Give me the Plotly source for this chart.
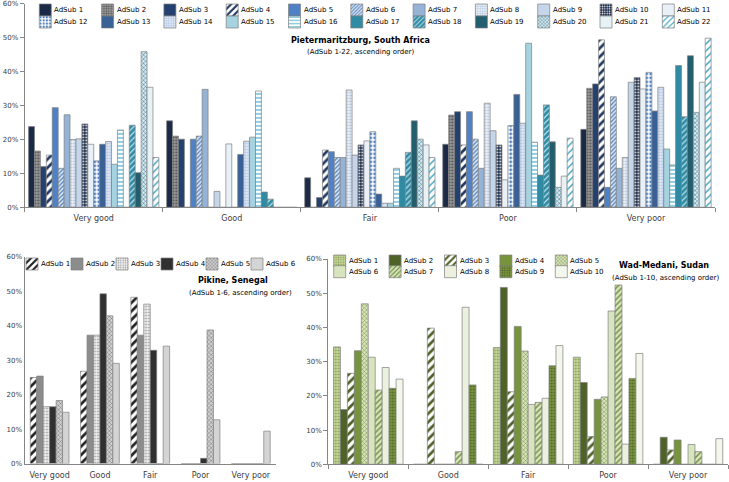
import plotly.graph_objects as go

W, H = 729, 482
FONT = "DejaVu Sans"

categories = ["Very good", "Good", "Fair", "Poor", "Very poor"]

# Pietermaritzburg, South Africa - % per rating, AdSub 1..22
pmb_very_good = [23.8, 16.6, 12.0, 15.4, 29.4, 11.5, 27.3, 20.0, 20.2, 24.6, 18.6,
                 13.7, 18.6, 19.4, 12.7, 22.8, 0.0, 24.2, 10.2, 45.9, 35.4, 14.7]
pmb_good = [25.5, 21.0, 20.1, 0.0, 20.1, 21.0, 34.8, 0.0, 4.7, 0.0, 18.7,
            0.0, 15.6, 19.5, 20.7, 34.3, 4.5, 2.4, 0.0, 0.0, 0.0, 0.0]
pmb_fair = [8.7, 0.0, 2.9, 16.9, 16.4, 14.7, 14.7, 34.6, 15.4, 18.4, 19.6,
            22.3, 3.9, 1.2, 1.2, 11.5, 9.2, 16.2, 25.5, 20.1, 18.4, 14.7]
pmb_poor = [18.6, 27.2, 28.2, 18.4, 28.2, 20.1, 11.5, 30.7, 22.6, 18.4, 8.1,
            24.1, 33.3, 24.8, 48.4, 19.2, 9.5, 30.2, 19.3, 5.9, 9.2, 20.4]
pmb_very_poor = [23.0, 35.1, 36.4, 49.4, 5.9, 32.6, 11.5, 14.7, 36.9, 38.3, 34.9,
                 39.8, 28.4, 35.4, 17.2, 12.5, 41.8, 26.7, 44.7, 28.0, 36.9, 49.9]

# Pikine, Senegal - AdSub 1..6
pik_very_good = [25.0, 25.4, 16.5, 16.5, 18.3, 14.9]
pik_good = [26.8, 37.3, 37.3, 49.3, 42.9, 29.1]
pik_fair = [48.3, 37.3, 46.3, 32.9, 0.0, 34.1]
pik_poor = [0.0, 0.0, 0.0, 1.5, 38.8, 12.7]
pik_very_poor = [0.0, 0.0, 0.0, 0.0, 0.0, 9.4]

# Wad-Medani, Sudan - AdSub 1..10
wad_very_good = [34.3, 16.0, 26.6, 33.2, 46.9, 31.3, 21.7, 28.3, 22.2, 24.9]
wad_good = [0.0, 0.0, 39.8, 0.0, 0.0, 0.0, 3.7, 45.9, 23.2, 0.0]
wad_fair = [34.1, 51.7, 21.2, 40.3, 33.1, 17.5, 18.1, 19.3, 28.8, 34.7]
wad_poor = [31.3, 23.9, 8.1, 19.0, 19.7, 44.8, 52.4, 5.9, 25.1, 32.4]
wad_very_poor = [0.0, 7.9, 4.2, 7.1, 0.0, 5.8, 3.7, 0.0, 0.0, 7.5]

# (background colour, pattern shape, pattern colour, pattern size, solidity)
pmb_styles = [
    ("#1b2a47", "", None, 8, 0.3),
    ("#9c9c9c", ".", "#4a4a4a", 3, 0.35),
    ("#23406e", "", None, 8, 0.3),
    ("#ffffff", "/", "#1f3864", 6, 0.45),
    ("#4f81c7", "", None, 8, 0.3),
    ("#dae4f2", "/", "#4f81bd", 3, 0.4),
    ("#95b3d7", "", None, 8, 0.3),
    ("#eef2f8", ".", "#a6bddb", 3, 0.35),
    ("#c5d5ea", "", None, 8, 0.3),
    ("#1b2a47", ".", "#ffffff", 3, 0.3),
    ("#eaf0f8", "", None, 8, 0.3),
    ("#ffffff", ".", "#4f81bd", 4, 0.4),
    ("#3a6196", "", None, 8, 0.3),
    ("#dde7f3", "+", "#8eaadb", 3, 0.2),
    ("#a5d3e0", "", None, 8, 0.3),
    ("#ffffff", "-", "#8fcde0", 4, 0.5),
    ("#2f8aa3", "", None, 8, 0.3),
    ("#2f8aa3", "/", "#bfe3ec", 4, 0.3),
    ("#225e6d", "", None, 8, 0.3),
    ("#d6e8ee", "x", "#2f6f86", 3, 0.3),
    ("#e6f2f6", "", None, 8, 0.3),
    ("#ffffff", "/", "#4bacc6", 5, 0.3),
]
pik_styles = [
    ("#ffffff", "/", "#222222", 6, 0.45),
    ("#8c8c8c", "", None, 8, 0.3),
    ("#f2f2f2", ".", "#9a9a9a", 3, 0.3),
    ("#303030", "", None, 8, 0.3),
    ("#d0d0d0", "x", "#6f6f6f", 3, 0.3),
    ("#d4d4d4", "", None, 8, 0.3),
]
wad_styles = [
    ("#c6d89f", ".", "#879e4e", 3, 0.35),
    ("#4f6228", "", None, 8, 0.3),
    ("#ffffff", "/", "#4f6228", 6, 0.45),
    ("#77933c", "", None, 8, 0.3),
    ("#d7e4bd", "x", "#6f8a3a", 3, 0.3),
    ("#d7e4bd", "", None, 8, 0.3),
    ("#d7e4bd", "/", "#6f8a3a", 4, 0.35),
    ("#ebf1de", "", None, 8, 0.3),
    ("#7a9640", ".", "#4f6228", 3, 0.35),
    ("#f4f7ec", "", None, 8, 0.3),
]


def px_x(x):
    return x / W


def px_y(y):
    return 1 - y / H


def marker(style):
    bg, shape, fg, size, solid = style
    m = dict(color=bg, line=dict(color="#7f7f7f", width=0.7))
    if shape:
        m["pattern"] = dict(shape=shape, fgcolor=fg, bgcolor=bg, size=size,
                            solidity=solid, fillmode="replace")
    return m


fig = go.Figure()


def add_panel(rows, styles, xa, ya, fill, legends):
    n = len(styles)
    w = fill / n
    per_legend = -(-n // len(legends))
    for k in range(n):
        vals = [r[k] for r in rows]
        fig.add_trace(go.Bar(
            x=categories, y=vals, name="", xaxis=xa, yaxis=ya,
            width=w, offset=-fill / 2 + k * w,
            marker=marker(styles[k]), legend=legends[k // per_legend],
            hovertemplate=f"AdSub {k + 1}: %{{y}}%<extra></extra>",
        ))


add_panel([pmb_very_good, pmb_good, pmb_fair, pmb_poor, pmb_very_poor],
          pmb_styles, "x", "y", 0.944, ["legend", "legend2"])
add_panel([pik_very_good, pik_good, pik_fair, pik_poor, pik_very_poor],
          pik_styles, "x2", "y2", 0.77, ["legend3"])
add_panel([wad_very_good, wad_good, wad_fair, wad_poor, wad_very_poor],
          wad_styles, "x3", "y3", 0.87, ["legend4", "legend5"])

# legend rows: (text x of first entry, step, row centre y, labels)
legend_rows = {
    "legend": (53.3, 62.3, 10.0, [f"AdSub {i}" for i in range(1, 12)]),
    "legend2": (53.3, 62.3, 22.0, [f"AdSub {i}" for i in range(12, 23)]),
    "legend3": (40.0, 45.0, 264.0, [f"AdSub {i}" for i in range(1, 7)]),
    "legend4": (347.7, 55.4, 261.0, [f"AdSub {i}" for i in range(1, 6)]),
    "legend5": (347.7, 55.4, 271.7, [f"AdSub {i}" for i in range(6, 11)]),
}

annotations = []
layout_legends = {}
for key, (tx, step, ry, labels) in legend_rows.items():
    layout_legends[key] = dict(
        orientation="h", x=px_x(tx - 28), y=px_y(ry - 14.5),
        xanchor="left", yanchor="top", bgcolor="rgba(0,0,0,0)",
        entrywidthmode="fraction", entrywidth=step / W,
        font=dict(family=FONT, size=7), borderwidth=0,
    )
    for i, lab in enumerate(labels):
        annotations.append(dict(
            text=lab, x=px_x(tx - 1 + i * step), y=px_y(ry), xref="paper", yref="paper",
            xanchor="left", yanchor="middle", showarrow=False,
            font=dict(family=FONT, size=7, color="#000000"),
        ))

titles = [
    ("<b>Pietermaritzburg, South Africa</b>", 360.7, 40.7, 8),
    ("(AdSub 1-22, ascending order)", 360.7, 52.3, 7),
    ("<b>Pikine, Senegal</b>", 233, 280.7, 8),
    ("(AdSub 1-6, ascending order)", 240, 293.3, 7),
    ("<b>Wad-Medani, Sudan</b>", 664, 265.7, 8),
    ("(AdSub 1-10, ascending order)", 665.5, 278.3, 7),
]
for txt, x, y, size in titles:
    annotations.append(dict(
        text=txt, x=px_x(x), y=px_y(y), xref="paper", yref="paper",
        xanchor="center", yanchor="middle", showarrow=False,
        font=dict(family=FONT, size=size, color="#000000"),
    ))

AX = "#868686"
TICK_FONT = dict(family=FONT, size=7, color="#404040")
CAT_FONT = dict(family=FONT, size=8, color="#404040")


def xaxis(domain, anchor, ticks, standoff):
    return dict(domain=domain, anchor=anchor, type="category", range=[-0.5, 4.5],
                showline=True, linecolor=AX, linewidth=1, showgrid=False,
                ticks=ticks, tickson="boundaries", ticklen=4, tickcolor=AX,
                ticklabelstandoff=standoff, tickfont=CAT_FONT, fixedrange=True)


def yaxis(domain, anchor, ticks):
    return dict(domain=domain, anchor=anchor, range=[0, 60], dtick=10, ticksuffix="%",
                showline=True, linecolor=AX, linewidth=1, showgrid=False,
                zeroline=False, ticks=ticks, ticklen=4, tickcolor=AX,
                tickfont=TICK_FONT, fixedrange=True)


fig.update_layout(
    width=W, height=H,
    margin=dict(l=0, r=0, t=0, b=0, autoexpand=False),
    paper_bgcolor="white", plot_bgcolor="white",
    font=dict(family=FONT, size=7, color="#404040"),
    barmode="overlay",
    xaxis=xaxis([px_x(24.7), px_x(715)], "y", "outside", 3),
    yaxis=yaxis([px_y(207.3), px_y(3.9)], "x", "outside"),
    xaxis2=xaxis([px_x(24.5), px_x(276)], "y2", "", 4),
    yaxis2=yaxis([px_y(463.5), px_y(257)], "x2", ""),
    xaxis3=xaxis([px_x(328.3), px_x(728)], "y3", "outside", 3),
    yaxis3=yaxis([px_y(464.3), px_y(259)], "x3", "outside"),
    annotations=annotations,
    **layout_legends,
)

# page body margin would shift the 729x482 figure inside the window
fig.write_html("out.html", config={"displayModeBar": False},
               post_script="document.body.style.margin='0px';")
